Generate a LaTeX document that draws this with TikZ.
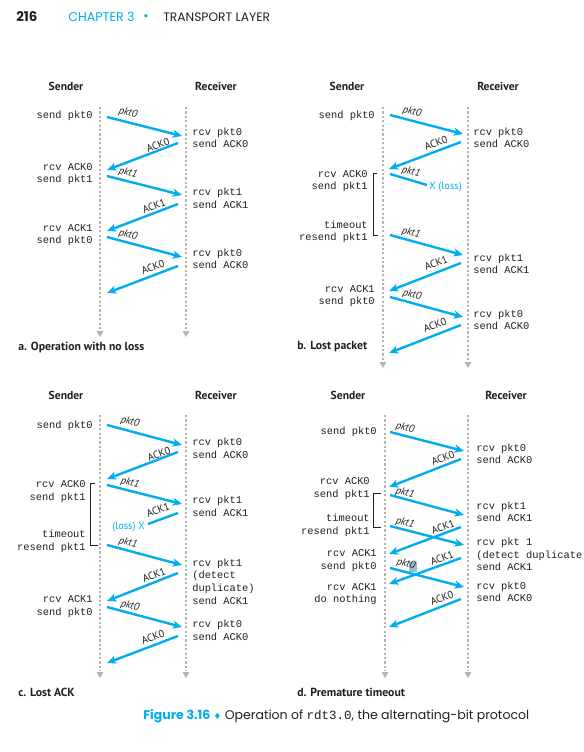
\documentclass[tikz,border=0pt]{standalone}
\usepackage{fontspec}
\setmainfont{PT Sans}
\newfontfamily\mono{Liberation Mono}
\newfontfamily\geo{Poppins}
\newfontfamily\djv{DejaVu Sans}
\usetikzlibrary{arrows.meta}
\definecolor{cy}{RGB}{0,174,239}
\definecolor{lifegray}{RGB}{180,180,180}
\definecolor{ink}{RGB}{35,31,32}
\definecolor{hilite}{RGB}{150,185,212}
\newcommand\lifeline[4]{%
  \coordinate (#1top) at (#2,#3);
  \coordinate (#1bot) at (#2,#4);
  \draw[life] (#1top) -- (#1bot);
  \fill[lifegray] (#1bot) ++(-3.5,1) -- ++(7,0) -- ++(-3.5,6) -- cycle;}
\newcommand\msgarrow[4]{%
  \coordinate (#1s) at (#2);
  \coordinate (#1e) at (#3);
  \draw[#4] (#1s) -- (#1e);}
\tikzset{
  life/.style={draw=lifegray, line width=1.7pt, dash pattern=on 1.6pt off 1.7pt},
  msg/.style={draw=cy, line width=1.8pt, -{Stealth[length=7pt,width=6pt,inset=1.8pt]}},
  lostmsg/.style={draw=cy, line width=1.8pt},
  mtxtl/.style={font=\mono\fontsize{7.8}{9.5}\selectfont, inner sep=0pt, text=ink, anchor=mid west},
  mtxtr/.style={font=\mono\fontsize{7.8}{9.5}\selectfont, inner sep=0pt, text=ink, anchor=mid east},
  plab/.style={font=\itshape\fontsize{7.8}{9}\selectfont, inner sep=0pt, text=ink},
  ackl/.style={font=\fontsize{7.8}{9}\selectfont, inner sep=0pt, text=ink, rotate=21},
  pktl/.style={plab, rotate=-14},
  head/.style={font=\bfseries\fontsize{8.7}{10}\selectfont, inner sep=0pt, text=ink},
  pcap/.style={font=\bfseries\fontsize{8.8}{10}\selectfont, inner sep=0pt, text=ink, anchor=mid west},
  losstxt/.style={font=\fontsize{7.8}{9}\selectfont, inner sep=0pt, text=cy},
  brk/.style={draw=ink, line width=0.6pt},
}
\begin{document}
\begin{tikzpicture}[x=0.75pt,y=-0.75pt]
\useasboundingbox[fill=white] (0,0) rectangle (583,752);
% ---------- header ----------
\node[font=\geo\bfseries\fontsize{10}{12}\selectfont, text=ink, anchor=mid west, inner sep=0pt] (pg) at (16,18) {216};
\node[font=\geo\fontsize{9.5}{12}\selectfont, text=cy, anchor=mid west, inner sep=0pt] (ch) at (68,18) {CHAPTER 3};
\node[font=\geo\fontsize{9.5}{12}\selectfont, text=cy, inner sep=0pt] (bul) at (146,18) {•};
\node[font=\geo\fontsize{9.2}{12}\selectfont, text=ink, anchor=mid west, inner sep=0pt] (tl) at (163,18) {TRANSPORT LAYER};
% =============== panel a ===============
\node[head] (aSh) at (66,86) {Sender};
\node[head] (aRh) at (216,86) {Receiver};
\lifeline{aS}{100}{107}{330}
\lifeline{aR}{186}{107}{330}
\msgarrow{a1}{107,117}{182,136}{msg}
\msgarrow{a2}{178,143}{107,170}{msg}
\msgarrow{a3}{107,176}{182,195}{msg}
\msgarrow{a4}{178,204}{107,231}{msg}
\msgarrow{a5}{107,237}{182,257}{msg}
\msgarrow{a6}{178,266}{107,293}{msg}
\node[pktl] (a1l) at (128,113) {pkt0};
\node[ackl] (a2l) at (158,145) {ACK0};
\node[pktl] (a3l) at (128,173) {pkt1};
\node[ackl] (a4l) at (154,206) {ACK1};
\node[pktl] (a5l) at (128,235) {pkt0};
\node[ackl] (a6l) at (153,267) {ACK0};
\node[mtxtr] (at1) at (93,115) {send pkt0};
\node[mtxtl] (at2) at (192,132) {rcv pkt0};
\node[mtxtl] (at3) at (192,144) {send ACK0};
\node[mtxtr] (at4) at (93,167) {rcv ACK0};
\node[mtxtr] (at5) at (93,179) {send pkt1};
\node[mtxtl] (at6) at (192,192) {rcv pkt1};
\node[mtxtl] (at7) at (192,205) {send ACK1};
\node[mtxtr] (at8) at (93,228) {rcv ACK1};
\node[mtxtr] (at9) at (93,240) {send pkt0};
\node[mtxtl] (at10) at (192,253) {rcv pkt0};
\node[mtxtl] (at11) at (192,265) {send ACK0};
\node[pcap] (acap) at (18,347) {a. Operation with no loss};
% =============== panel b ===============
\node[head] (bSh) at (347,86) {Sender};
\node[head] (bRh) at (498,86) {Receiver};
\lifeline{bS}{383}{107}{361}
\lifeline{bR}{468}{107}{361}
\msgarrow{b1}{390,115}{463,134}{msg}
\msgarrow{b2}{461,142}{389,169}{msg}
\msgarrow{b3}{390,174}{427,185}{lostmsg}
\msgarrow{b4}{390,235}{463,255}{msg}
\msgarrow{b5}{461,263}{389,291}{msg}
\msgarrow{b6}{390,297}{463,317}{msg}
\msgarrow{b7}{461,325}{389,353}{msg}
\node[pktl] (b1l) at (412,112) {pkt0};
\node[ackl] (b2l) at (436,143) {ACK0};
\node[pktl] (b3l) at (411,172) {pkt1};
\node[losstxt, anchor=mid west] (b3x) at (429,186) {X (loss)};
\node[pktl] (b4l) at (411,233) {pkt1};
\node[ackl] (b5l) at (436,263) {ACK1};
\node[pktl] (b6l) at (412,295) {pkt0};
\node[ackl] (b7l) at (435,325) {ACK0};
\node[mtxtr] (bt1) at (375,115) {send pkt0};
\node[mtxtl] (bt2) at (473,132) {rcv pkt0};
\node[mtxtl] (bt3) at (473,144) {send ACK0};
\node[mtxtr] (bt4) at (368,174) {rcv ACK0};
\node[mtxtr] (bt5) at (368,186) {send pkt1};
\node[mtxtr] (bt6) at (368,225) {timeout};
\node[mtxtr] (bt7) at (368,237) {resend pkt1};
\node[mtxtl] (bt8) at (473,258) {rcv pkt1};
\node[mtxtl] (bt9) at (473,270) {send ACK1};
\node[mtxtr] (bt10) at (375,289) {rcv ACK1};
\node[mtxtr] (bt11) at (375,301) {send pkt0};
\node[mtxtl] (bt12) at (473,314) {rcv pkt0};
\node[mtxtl] (bt13) at (473,326) {send ACK0};
\coordinate (bb1) at (377,173); \coordinate (bb2) at (373,173);
\coordinate (bb3) at (373,235); \coordinate (bb4) at (378,235);
\draw[brk] (bb1) -- (bb2) -- (bb3) -- (bb4);
\node[pcap] (bcap) at (297,346) {b. Lost packet};
% =============== panel c ===============
\node[head] (cSh) at (66,395) {Sender};
\node[head] (cRh) at (216,395) {Receiver};
\lifeline{cS}{100}{415}{671}
\lifeline{cR}{186}{415}{671}
\msgarrow{c1}{107,425}{182,445}{msg}
\msgarrow{c2}{178,452}{107,479}{msg}
\msgarrow{c3}{107,485}{182,504}{msg}
\msgarrow{c4}{178,513}{148,524}{lostmsg}
\msgarrow{c5}{107,545}{182,565}{msg}
\msgarrow{c6}{178,573}{107,601}{msg}
\msgarrow{c7}{107,607}{182,627}{msg}
\msgarrow{c8}{178,636}{107,663}{msg}
\node[pktl] (c1l) at (130,422) {pkt0};
\node[ackl] (c2l) at (159,454) {ACK0};
\node[pktl] (c3l) at (130,483) {pkt1};
\node[ackl] (c4l) at (158,510) {ACK1};
\node[losstxt, anchor=mid east] (c4x) at (145,526) {(loss) X};
\node[pktl] (c5l) at (128,543) {pkt1};
\node[ackl] (c6l) at (154,575) {ACK1};
\node[pktl] (c7l) at (130,606) {pkt0};
\node[ackl] (c8l) at (153,637) {ACK0};
\node[mtxtr] (ct1) at (93,425) {send pkt0};
\node[mtxtl] (ct2) at (192,442) {rcv pkt0};
\node[mtxtl] (ct3) at (192,455) {send ACK0};
\node[mtxtr] (ct4) at (86,484) {rcv ACK0};
\node[mtxtr] (ct5) at (86,497) {send pkt1};
\node[mtxtl] (ct6) at (192,500) {rcv pkt1};
\node[mtxtl] (ct7) at (192,513) {send ACK1};
\node[mtxtr] (ct8) at (86,534) {timeout};
\node[mtxtr] (ct9) at (86,547) {resend pkt1};
\node[mtxtl] (ct10) at (192,563) {rcv pkt1};
\node[mtxtl] (ct11) at (192,575) {(detect};
\node[mtxtl] (ct12) at (192,588) {duplicate)};
\node[mtxtl] (ct13) at (192,601) {send ACK1};
\node[mtxtr] (ct14) at (93,599) {rcv ACK1};
\node[mtxtr] (ct15) at (93,612) {send pkt0};
\node[mtxtl] (ct16) at (192,624) {rcv pkt0};
\node[mtxtl] (ct17) at (192,637) {send ACK0};
\coordinate (cb1) at (95,483); \coordinate (cb2) at (90,483);
\coordinate (cb3) at (90,545); \coordinate (cb4) at (98,545);
\draw[brk] (cb1) -- (cb2) -- (cb3) -- (cb4);
\node[pcap] (ccap) at (18,693) {c. Lost ACK};
% =============== panel d ===============
\node[head] (dSh) at (348,395) {Sender};
\node[head] (dRh) at (506,395) {Receiver};
\lifeline{dS}{385}{415}{671}
\lifeline{dR}{468}{415}{671}
\fill[hilite] (409,562) rectangle (417,572);
\msgarrow{d1}{390,432}{464,451}{msg}
\msgarrow{d2}{461,459}{389,487}{msg}
\msgarrow{d3}{390,495}{464,515}{msg}
\msgarrow{d4}{390,526}{464,545}{msg}
\msgarrow{d5}{461,527}{389,554}{msg}
\msgarrow{d6}{461,558}{389,584}{msg}
\msgarrow{d7}{390,568}{464,587}{msg}
\msgarrow{d8}{461,599}{389,627}{msg}
\node[pktl] (d1l) at (405,428) {pkt0};
\node[ackl] (d2l) at (443,458) {ACK0};
\node[pktl] (d3l) at (405,493) {pkt1};
\node[pktl] (d4l) at (405,523) {pkt1};
\node[ackl] (d5l) at (443,527) {ACK1};
\node[ackl] (d6l) at (442,558) {ACK1};
\node[pktl] (d7l) at (406,564) {pkt0};
\node[ackl] (d8l) at (442,598) {ACK0};
\node[mtxtr] (dt1) at (377,431) {send pkt0};
\node[mtxtl] (dt2) at (476,448) {rcv pkt0};
\node[mtxtl] (dt3) at (476,460) {send ACK0};
\node[mtxtr] (dt4) at (370,481) {rcv ACK0};
\node[mtxtr] (dt5) at (370,494) {send pkt1};
\node[mtxtl] (dt6) at (476,506) {rcv pkt1};
\node[mtxtl] (dt7) at (476,518) {send ACK1};
\node[mtxtr] (dt8) at (370,518) {timeout};
\node[mtxtr] (dt9) at (370,531) {resend pkt1};
\node[mtxtl] (dt10) at (476,542) {rcv pkt 1};
\node[mtxtl] (dt11) at (476,555) {(detect duplicate};
\node[mtxtl] (dt12) at (476,567) {send ACK1};
\node[mtxtr] (dt13) at (377,553) {rcv ACK1};
\node[mtxtr] (dt14) at (377,566) {send pkt0};
\node[mtxtr] (dt15) at (377,587) {rcv ACK1};
\node[mtxtr] (dt16) at (377,599) {do nothing};
\node[mtxtl] (dt17) at (476,586) {rcv pkt0};
\node[mtxtl] (dt18) at (476,598) {send ACK0};
\coordinate (db1) at (381,493); \coordinate (db2) at (373,493);
\coordinate (db3) at (373,527); \coordinate (db4) at (381,527);
\draw[brk] (db1) -- (db2) -- (db3) -- (db4);
\node[pcap] (dcap) at (297,693) {d. Premature timeout};
% ---------- caption ----------
\node[anchor=mid west, inner sep=0pt, text=ink, font=\geo\fontsize{9.4}{11}\selectfont] (fig) at (143,716)
  {{\bfseries\color{cy}Figure 3.16} {\djv\fontsize{6.5}{8}\selectfont\color{cy}♦} Operation of {\mono rdt3.0}, the alternating-bit protocol};
\end{tikzpicture}
\end{document}
